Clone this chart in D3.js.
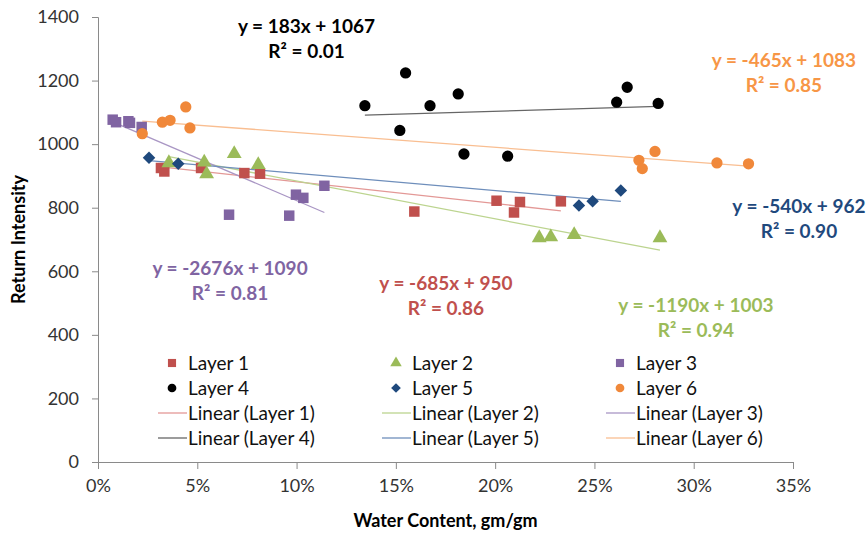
<!DOCTYPE html>
<html>
<head>
<meta charset="utf-8">
<script src="https://cdn.jsdelivr.net/npm/d3@7"></script>
<style>
  body { margin: 0; background: #fff; }
  svg { display: block; font-family: Lato, "Open Sans", sans-serif; }
</style>
</head>
<body>
<div id="chart"></div>
<script>
// values (x = water content fraction, y = return intensity)
let layer1X = [0.0317, 0.0334, 0.0519, 0.0737, 0.0816, 0.1593, 0.2007, 0.2095, 0.2125, 0.2331];
let layer1Y = [925, 914, 925, 909, 907, 788, 822, 785, 818, 820];
let layer2X = [0.0357, 0.0535, 0.0547, 0.0686, 0.0807, 0.2222, 0.2280, 0.2398, 0.2830];
let layer2Y = [941, 943, 906, 970, 935, 705, 708, 715, 705];
let layer3X = [0.0074, 0.0091, 0.0153, 0.0161, 0.0220, 0.0660, 0.0963, 0.0997, 0.1034, 0.1140];
let layer3Y = [1077, 1069, 1072, 1067, 1054, 778, 775, 841, 831, 869];
let layer4X = [0.1344, 0.1520, 0.1549, 0.1672, 0.1814, 0.1843, 0.2063, 0.2612, 0.2665, 0.2821];
let layer4Y = [1121, 1043, 1224, 1121, 1158, 969, 962, 1132, 1179, 1128];
let layer5X = [0.0257, 0.0404, 0.2422, 0.2491, 0.2633];
let layer5Y = [957, 938, 807, 820, 854];
let layer6X = [0.0223, 0.0324, 0.0363, 0.0442, 0.0463, 0.2724, 0.2741, 0.2805, 0.3117, 0.3276];
let layer6Y = [1033, 1069, 1075, 1117, 1051, 949, 923, 977, 941, 938];

let layerNames = ["Layer 1", "Layer 2", "Layer 3", "Layer 4", "Layer 5", "Layer 6"];
let slopes = [-685, -1190, -2676, 183, -540, -465];
let intercepts = [950, 1003, 1090, 1067, 962, 1083];
let rSquared = ["0.86", "0.94", "0.81", "0.01", "0.90", "0.85"];
// where each equation label sits (data units, first line baseline)
let labelX = [0.1752, 0.3011, 0.0665, 0.1050, 0.3530, 0.3454];
let labelY = [541, 473, 588, 1350, 783, 1244];

let xTicks = [0, 0.05, 0.10, 0.15, 0.20, 0.25, 0.30, 0.35];
let yTicks = [0, 200, 400, 600, 800, 1000, 1200, 1400];

let colors = ["#C0504D", "#9BBB59", "#8064A2", "#000000", "#1F497D", "#F0883A"];
let textColors = ["#C0504D", "#9BBB59", "#8064A2", "#000000", "#1F497D", "#F79646"];
let trendColors = ["#E39896", "#BCD48F", "#A996C4", "#666666", "#6E8EBB", "#F9BE91"];
let diamond = d3.symbolDiamond2 || d3.symbolDiamond;
let shapes = [d3.symbolSquare, d3.symbolTriangle, d3.symbolSquare, d3.symbolCircle, diamond, d3.symbolCircle];
let sizes = [110, 95, 110, 100, 100, 100];

let xs = [layer1X, layer2X, layer3X, layer4X, layer5X, layer6X];
let ys = [layer1Y, layer2Y, layer3Y, layer4Y, layer5Y, layer6Y];

let series = layerNames.map((name, i) => ({
    name, i,
    points: xs[i].map((x, j) => ({ x, y: ys[i][j] }))
}));

let width = 866, height = 533;
let margin = ({ top: 17, right: 73, bottom: 71, left: 98 });

let x = d3.scaleLinear().domain([0, 0.35]).range([margin.left, width - margin.right]);
let y = d3.scaleLinear().domain([0, 1400]).range([height - margin.bottom, margin.top]);

let svg = d3.select("#chart").append("svg")
    .attr("width", width).attr("height", height)
    .attr("viewBox", [0, 0, width, height]);

// axes
svg.append("g")
    .attr("transform", `translate(0,${y(0)})`)
    .call(d3.axisBottom(x).tickValues(xTicks).tickFormat(d3.format(".0%")).tickSize(7).tickPadding(10))
    .call(g => g.selectAll("path, line").attr("stroke", "#8a8a8a"))
    .call(g => g.selectAll("text").attr("fill", "#333").attr("font-size", 18).attr("font-family", "Lato"));

svg.append("g")
    .attr("transform", `translate(${x(0)},0)`)
    .call(d3.axisLeft(y).tickValues(yTicks).tickFormat(d3.format("d")).tickSize(6).tickPadding(13))
    .call(g => g.selectAll("path, line").attr("stroke", "#8a8a8a"))
    .call(g => g.selectAll("text").attr("fill", "#333").attr("font-size", 18).attr("font-family", "Lato"));

svg.append("text")
    .attr("x", (x(0) + x(0.35)) / 2)
    .attr("y", 527)
    .attr("text-anchor", "middle")
    .attr("font-weight", "bold")
    .attr("font-size", 18)
    .text("Water Content, gm/gm");

svg.append("text")
    .attr("transform", `translate(25,${(y(0) + y(1400)) / 2}) rotate(-90)`)
    .attr("text-anchor", "middle")
    .attr("font-weight", "bold")
    .attr("font-size", 18)
    .text("Return Intensity");

// trend lines
svg.append("g")
    .selectAll("line")
    .data(series)
    .join("line")
    .attr("x1", d => x(d3.min(d.points, p => p.x)))
    .attr("x2", d => x(d3.max(d.points, p => p.x)))
    .attr("y1", d => y(slopes[d.i] * d3.min(d.points, p => p.x) + intercepts[d.i]))
    .attr("y2", d => y(slopes[d.i] * d3.max(d.points, p => p.x) + intercepts[d.i]))
    .attr("stroke", d => trendColors[d.i])
    .attr("stroke-width", 1.3);

// markers
svg.append("g")
    .selectAll("g")
    .data(series)
    .join("g")
    .attr("fill", d => colors[d.i])
    .each(function (d) {
        d3.select(this).selectAll("path")
            .data(d.points)
            .join("path")
            .attr("transform", p => `translate(${x(p.x)},${y(p.y)})`)
            .attr("d", d3.symbol().type(shapes[d.i]).size(sizes[d.i]));
    });

// equation labels
let labels = svg.append("g")
    .attr("font-weight", "bold")
    .attr("font-size", 19)
    .attr("text-anchor", "middle")
    .selectAll("text")
    .data(series)
    .join("text")
    .attr("fill", d => textColors[d.i])
    .attr("transform", d => `translate(${x(labelX[d.i])},${y(labelY[d.i])})`);

labels.append("tspan")
    .attr("x", 0)
    .text(d => `y = ${slopes[d.i]}x + ${intercepts[d.i]}`);
labels.append("tspan")
    .attr("x", 0)
    .attr("dy", 25)
    .text(d => `R² = ${rSquared[d.i]}`);

// legend
let legendItems = series.map(d => ({ kind: "marker", d }))
    .concat(series.map(d => ({ kind: "line", d })));

let legend = svg.append("g")
    .attr("font-size", 19)
    .selectAll("g")
    .data(legendItems)
    .join("g")
    .attr("transform", (e, k) => `translate(${172 + (k % 3) * 224},${363 + Math.floor(k / 3) * 25})`);

legend.filter(e => e.kind === "marker")
    .append("path")
    .attr("fill", e => colors[e.d.i])
    .attr("d", e => d3.symbol().type(shapes[e.d.i]).size(sizes[e.d.i] * 0.6)());

legend.filter(e => e.kind === "line")
    .append("line")
    .attr("x1", -14).attr("x2", 15)
    .attr("stroke", e => trendColors[e.d.i])
    .attr("stroke-width", 1.3);

legend.append("text")
    .attr("x", 16)
    .attr("dy", "0.35em")
    .attr("fill", "#111")
    .text(e => e.kind === "marker" ? e.d.name : `Linear (${e.d.name})`);
</script>
</body>
</html>
